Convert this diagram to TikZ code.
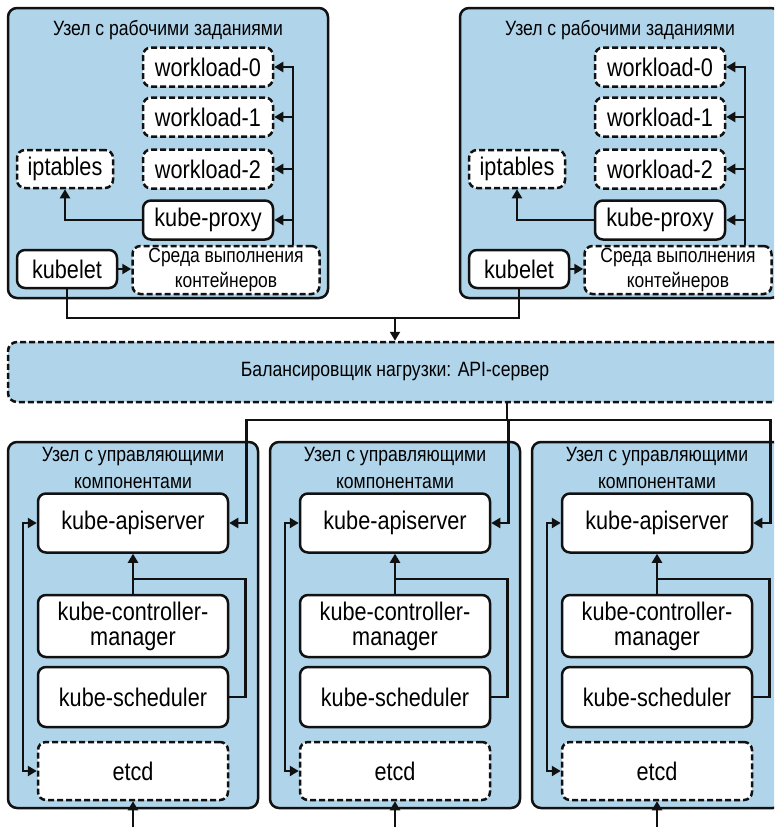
\documentclass[tikz,border=0pt]{standalone}
\usepackage{fontspec}
\setmainfont{Liberation Sans}[FakeStretch=0.85]
\usepackage{tikz}
\usetikzlibrary{arrows.meta,calc}
\definecolor{nodeblue}{HTML}{B0D4E9}
\definecolor{ink}{HTML}{111111}

\begin{document}
\begin{tikzpicture}[x=1pt,y=-1pt,line width=2.5pt,draw=ink,
  host/.style={draw=ink,rounded corners=9pt,fill=nodeblue},
  title/.style={align=center,font=\fontsize{20.7}{27}\selectfont},
  comp/.style={draw=ink,fill=white,rounded corners=8pt,inner sep=0pt,
    align=center,font=\fontsize{25.5}{25}\selectfont},
  dashbox/.style={dash pattern=on 6pt off 3pt},
  pod/.style={comp,minimum width=130pt,minimum height=39pt},
  arr/.style={-{Triangle[length=9pt,width=10pt]}},
  biarr/.style={{Triangle[length=9pt,width=10pt]}-{Triangle[length=9pt,width=10pt]}}]
  \useasboundingbox (0,0) rectangle (774,827);
  \clip (0,0) rectangle (774,827);

  % worker nodes
  \foreach \dx/\i in {0/1,452/2}{
    \begin{scope}[xshift=\dx pt]
      \node[host,minimum width=320pt,minimum height=290pt] (host\i) at (168,153) {};
      \node[title] (title\i) at (168,30) {Узел с рабочими заданиями};
      \node[pod,dashbox] (work\i0) at (208,67) {workload-0};
      \node[pod,dashbox] (work\i1) at (208,117) {workload-1};
      \node[pod,dashbox] (work\i2) at (208,169) {workload-2};
      \node[pod] (proxy\i) at (208,220) {kube-proxy};
      \node[comp,dashbox,minimum width=96pt,minimum height=38pt] (ipt\i) at (65,169) {iptables};
      \node[comp,minimum width=100pt,minimum height=38pt] (kubelet\i) at (67,269) {kubelet};
      \node[comp,dashbox,minimum width=187pt,minimum height=48pt,
        font=\fontsize{20.5}{24.5}\selectfont] (runtime\i) at (226,270)
        {Среда выполнения\\контейнеров};
      \coordinate (bus\i) at (293,0);
    \end{scope}
    \draw[arr] (runtime\i.north -| bus\i) |- (work\i0);
    \draw[arr] (bus\i |- work\i1) -- (work\i1);
    \draw[arr] (bus\i |- work\i2) -- (work\i2);
    \draw[arr] (bus\i |- proxy\i) -- (proxy\i);
    \draw[arr] (proxy\i) -| (ipt\i);
    \draw[arr] (kubelet\i) -- (runtime\i.west |- kubelet\i);
  }

  % load balancer
  \node[host,dashbox,minimum width=774pt,minimum height=60pt,
    font=\fontsize{20.7}{24}\selectfont] (lb) at (395,372)
    {Балансировщик нагрузки: API-сервер};
  \coordinate (merge) at (395,318);
  \draw (kubelet1) |- (merge);
  \draw (kubelet2) |- (merge);
  \draw[arr] (merge) -- (lb);
  \coordinate (split) at (507,420);
  \draw (lb.south -| split) -- (split);

  % control plane nodes
  \foreach \cx/\i in {133/1,395/2,657/3}{
    \node[host,minimum width=250pt,minimum height=366pt] (cp\i) at (\cx,625) {};
    \node[title] (ctitle\i) at (\cx,468) {Узел с управляющими\\компонентами};
    \node[comp,minimum width=190pt,minimum height=59pt] (api\i) at (\cx,523) {kube-apiserver};
    \node[comp,minimum width=190pt,minimum height=62pt] (cm\i) at (\cx,626) {kube-controller-\\manager};
    \node[comp,minimum width=190pt,minimum height=60pt] (sched\i) at (\cx,697) {kube-scheduler};
    \node[comp,dashbox,minimum width=190pt,minimum height=58pt] (etcd\i) at (\cx,771) {etcd};
    \coordinate (feed\i) at (\cx,840);
    \draw[arr] (feed\i) -- (etcd\i);
    \draw[biarr] (api\i.west) -- ++(-14,0) |- (etcd\i.west);
    \draw[arr] (cm\i) -- (api\i);
    \draw (sched\i.east) -- ++(16,0) |- ($(cm\i.north)+(0,-15)$);
    \draw[arr] (split) -| ($(api\i.east)+(17,0)$) -- (api\i.east);
  }
\end{tikzpicture}
\end{document}
